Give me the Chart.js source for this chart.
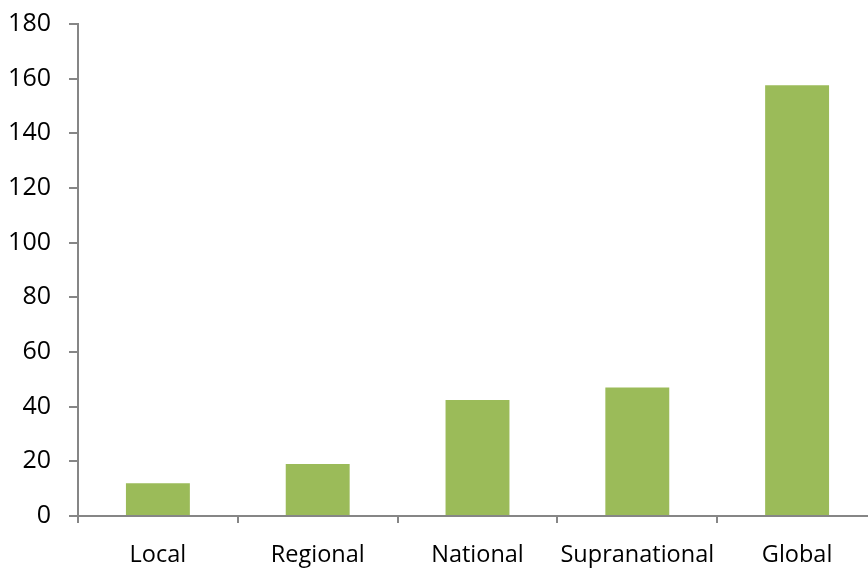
<!DOCTYPE html>
<html>
<head>
<meta charset="utf-8">
<script src="https://cdn.jsdelivr.net/npm/chart.js@4"></script>
<style>
  html, body { margin: 0; padding: 0; background: #fff; overflow: hidden; }
  #wrap { width: 877px; height: 568px; }
</style>
</head>
<body>
<div id="wrap"><canvas id="chart" width="877" height="568"></canvas></div>
<script>
// categories and values
const categories = ['Local', 'Regional', 'National', 'Supranational', 'Global'];
const values = [12, 19, 42.4, 47, 157.6];
const yTicks = [0, 20, 40, 60, 80, 100, 120, 140, 160, 180];

const axisGrey = '#868686';
const barGreen = '#9BBB59';

Chart.defaults.font.family = '"Open Sans", "Noto Sans", sans-serif';
Chart.defaults.color = '#000';

new Chart(document.getElementById('chart'), {
  type: 'bar',
  data: {
    labels: categories,
    datasets: [{
      data: values,
      backgroundColor: barGreen,
      borderWidth: 0,
      categoryPercentage: 1,
      barPercentage: 0.4
    }]
  },
  options: {
    responsive: false,
    animation: false,
    layout: { padding: { top: 24, left: 0, right: 0, bottom: 0 } },
    plugins: { legend: { display: false }, tooltip: { enabled: false } },
    scales: {
      x: {
        grid: {
          drawOnChartArea: false,
          drawTicks: true,
          tickLength: 7,
          color: axisGrey,
          lineWidth: 2,
          offset: true
        },
        border: { color: axisGrey, width: 2 },
        ticks: { font: { size: 23.5 }, padding: 18, maxRotation: 0 },
        afterFit: s => { s.height = 52; s.paddingLeft = 0; s.paddingRight = 0; }
      },
      y: {
        min: 0,
        max: 180,
        afterBuildTicks: s => { s.ticks = yTicks.map(v => ({ value: v })); },
        grid: {
          drawOnChartArea: false,
          drawTicks: true,
          tickLength: 9,
          color: axisGrey,
          lineWidth: 2
        },
        border: { color: axisGrey, width: 2 },
        ticks: { font: { size: 25 }, padding: 18 },
        afterFit: s => { s.width = 78; s.paddingTop = 0; s.paddingBottom = 0; }
      }
    }
  }
});
</script>
</body>
</html>
